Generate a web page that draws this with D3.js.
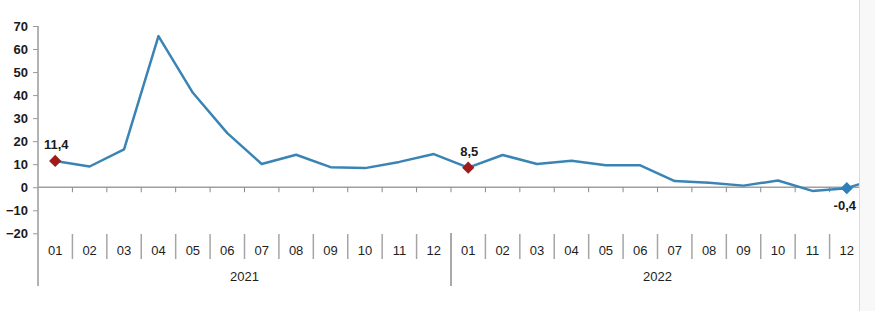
<!DOCTYPE html>
<html>
<head>
<meta charset="utf-8">
<script src="https://cdn.jsdelivr.net/npm/d3@7/dist/d3.min.js"></script>
<style>
	html, body { margin: 0; padding: 0; background: #fff; }
	svg { display: block; font-family: "Liberation Sans", Arial, sans-serif; }
</style>
</head>
<body>
<div id="chart"></div>
<script>
// monthly change (%), 2021-01 .. 2022-12
const years = ["2021", "2022"];
const months = ["01", "02", "03", "04", "05", "06", "07", "08", "09", "10", "11", "12"];
const values = [11.4, 9.0, 16.4, 65.6, 41.0, 23.5, 10.1, 14.1, 8.7, 8.3, 11.0, 14.4,
	8.5, 14.0, 10.1, 11.5, 9.5, 9.5, 2.7, 1.9, 0.7, 2.9, -1.6, -0.4];
// first point of the next year, cut off by the right edge
const nextValue = 4.4;
const yTicks = [-20, -10, 0, 10, 20, 30, 40, 50, 60, 70];
// labelled points: index into values, label text, marker colour
const markers = [
	{ index: 0, text: "11,4", color: "#9e1b1b", pos: "above" },
	{ index: 12, text: "8,5", color: "#9e1b1b", pos: "above" },
	{ index: 23, text: "-0,4", color: "#2f7fba", pos: "below" }
];

const w = 875, h = 311;
const margin = { left: 38, right: 11, top: 26 };
const plotRight = w - margin.right;
const clipRight = 859;

let categories = [];
years.forEach((yr) => months.forEach((m) => categories.push(yr + "-" + m)));

let svg = d3.select("#chart").append("svg")
	.attr("width", w)
	.attr("height", h);

// page background strip on the right
svg.append("rect")
	.attr("x", clipRight).attr("y", 0)
	.attr("width", w - clipRight).attr("height", h)
	.attr("fill", "#f8f8f8");
svg.append("line")
	.attr("x1", clipRight + 0.5).attr("x2", clipRight + 0.5)
	.attr("y1", 0).attr("y2", h)
	.attr("stroke", "#dcdcdc");

svg.append("clipPath").attr("id", "plot-clip")
	.append("rect")
	.attr("x", 0).attr("y", 0)
	.attr("width", clipRight).attr("height", h);

let x = d3.scaleBand()
	.domain(d3.range(categories.length))
	.range([margin.left, plotRight])
	.paddingInner(0).paddingOuter(0);

let y = d3.scaleLinear()
	.domain([-20, 70])
	.range([233.3, margin.top]);

let cx = (i) => x.bandwidth() * (i + 0.5) + margin.left;

// y axis
let yAxis = d3.axisLeft(y)
	.tickValues(yTicks)
	.tickSize(5)
	.tickPadding(5);

let yg = svg.append("g")
	.attr("transform", "translate(" + margin.left + ",0)")
	.call(yAxis);

yg.select(".domain").remove();
yg.selectAll(".tick line").attr("stroke", "#9a9a9a");
yg.selectAll(".tick text")
	.attr("fill", "#1a1a1a")
	.style("font-size", "13px")
	.style("font-weight", "bold");

svg.append("line")
	.attr("x1", margin.left).attr("x2", margin.left)
	.attr("y1", y(70)).attr("y2", 286)
	.attr("stroke", "#9a9a9a")
	.attr("stroke-width", 1.5);

// zero line with tick marks at category boundaries
let y0 = y(0);
svg.append("line")
	.attr("x1", margin.left).attr("x2", clipRight)
	.attr("y1", y0).attr("y2", y0)
	.attr("stroke", "#a0a0a0")
	.attr("stroke-width", 1.5);

svg.append("g").selectAll("line")
	.data(d3.range(1, categories.length))
	.enter().append("line")
	.attr("x1", (i) => x(i)).attr("x2", (i) => x(i))
	.attr("y1", y0).attr("y2", y0 + 5)
	.attr("stroke", "#8a8a8a");

// category labels and separators
let catG = svg.append("g");
catG.selectAll("text")
	.data(categories)
	.enter().append("text")
	.attr("x", (d, i) => cx(i))
	.attr("y", 255)
	.attr("text-anchor", "middle")
	.attr("fill", "#1e1e1e")
	.style("font-size", "13px")
	.text((d) => d.split("-")[1]);

catG.selectAll("line")
	.data(d3.range(1, categories.length).filter((i) => i % months.length !== 0))
	.enter().append("line")
	.attr("x1", (i) => x(i)).attr("x2", (i) => x(i))
	.attr("y1", 234).attr("y2", 259)
	.attr("stroke", "#a5a5a5")
	.attr("stroke-width", 1.5);

// year dividers and labels
years.forEach((yr, k) => {
	let start = k * months.length;
	if (k > 0) {
		svg.append("line")
			.attr("x1", x(start)).attr("x2", x(start))
			.attr("y1", 233).attr("y2", 286)
			.attr("stroke", "#555")
			.attr("stroke-width", 1);
	}
	svg.append("text")
		.attr("x", (x(start) + x(start + months.length - 1) + x.bandwidth()) / 2)
		.attr("y", 281)
		.attr("text-anchor", "middle")
		.attr("fill", "#1e1e1e")
		.style("font-size", "13px")
		.text(yr);
});

// series line
let lineData = values.map((v, i) => [cx(i), y(v)]);
lineData.push([cx(values.length), y(nextValue)]);

svg.append("path")
	.datum(lineData)
	.attr("clip-path", "url(#plot-clip)")
	.attr("d", d3.line())
	.attr("fill", "none")
	.attr("stroke", "#3a84b5")
	.attr("stroke-width", 2.5)
	.attr("stroke-linejoin", "round");

// labelled diamonds
let mg = svg.append("g");
mg.selectAll("path")
	.data(markers)
	.enter().append("path")
	.attr("d", d3.symbol().type(d3.symbolDiamond2).size(95))
	.attr("transform", (d) => "translate(" + cx(d.index) + "," + y(values[d.index]) + ")")
	.attr("fill", (d) => d.color);

mg.selectAll("text")
	.data(markers)
	.enter().append("text")
	.attr("x", (d) => d.pos == "above" ? cx(d.index) + 1 : cx(d.index) - 2)
	.attr("y", (d) => d.pos == "above" ? y(values[d.index]) - 12 : y(values[d.index]) + 22)
	.attr("text-anchor", "middle")
	.attr("fill", "#1a1a1a")
	.style("font-size", "13px")
	.style("font-weight", "bold")
	.text((d) => d.text);
</script>
</body>
</html>
